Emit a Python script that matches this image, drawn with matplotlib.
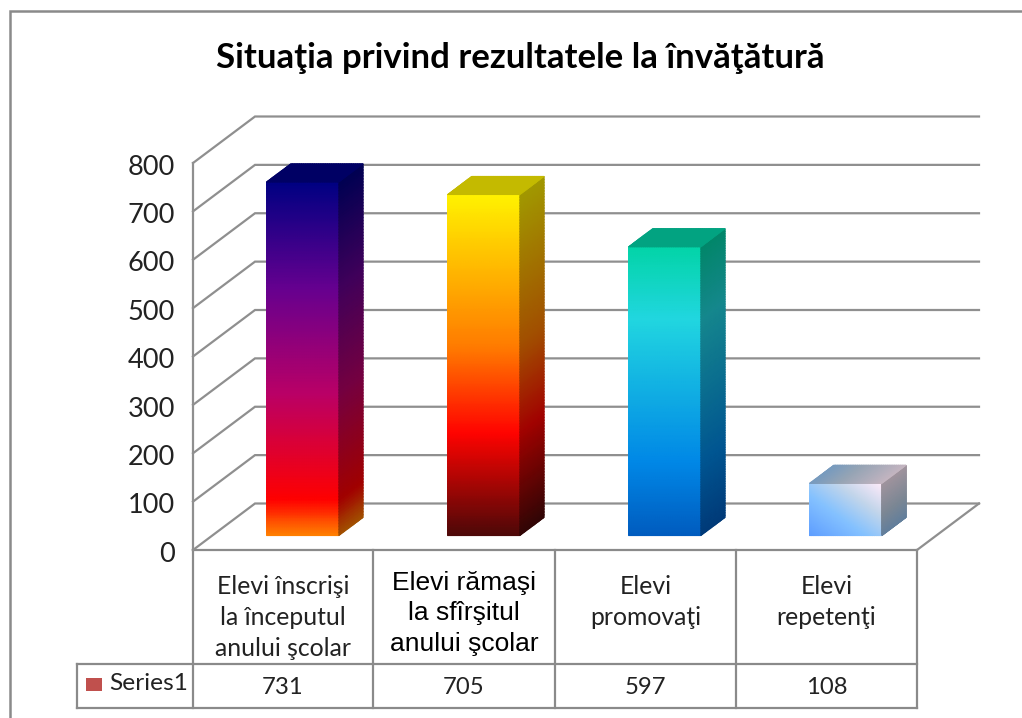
import numpy as np
import matplotlib
matplotlib.use("Agg")
import matplotlib.pyplot as plt
from matplotlib.colors import LinearSegmentedColormap
from matplotlib.transforms import ScaledTranslation

# data
categories = ["Elevi înscrişi\nla începutul\nanului şcolar",
              "Elevi rămaşi\nla sfîrşitul\nanului şcolar",
              "Elevi\npromovaţi",
              "Elevi\nrepetenţi"]
values = [731, 705, 597, 108]
table_values = ["731", "705", "597", "108"]
y_ticks = [0, 100, 200, 300, 400, 500, 600, 700, 800]
series_name = "Series1"
title = "Situaţia privind rezultatele la învăţătură"

# gradient stops per bar, bottom to top
grad_stops = [
    [(0.0, "#FF8200"), (0.10, "#FF0000"), (0.40, "#BA0066"), (0.70, "#66008F"), (1.0, "#000082")],
    [(0.0, "#4D0808"), (0.30, "#FF0300"), (0.55, "#FF7A00"), (1.0, "#FFF200")],
    [(0.0, "#005CBF"), (0.25, "#0087E6"), (0.75, "#21D6E0"), (1.0, "#03D4A8")],
    [(0.0, "#5E9EFF"), (0.39, "#85C2FF"), (0.70, "#C4D6EB"), (1.0, "#FFEBFA")],
]
diagonal = [False, False, False, True]

W, H = 1022, 718
GRID = "#8f8f8f"
LINE = "#8a8a8a"
TEXT = "#222222"

# front plane of the 3d box in pixels
LEFT, RIGHT, Y0, Y800 = 193, 917, 550, 163
# how far the back wall sits from the front plane, in axis units
WALL_DX = 62 / 181
WALL_DY = 46.5 / ((Y0 - Y800) / 800)
BAR_W = 0.40
D_FRONT, D_BACK = 0.31, 0.70


def project(x, v, d):
    return x + d * WALL_DX, v + d * WALL_DY


fig = plt.figure(figsize=(W / 100, H / 100), dpi=100, facecolor="white")

# overlay in pixel coordinates for frame and table
bg = fig.add_axes([0, 0, 1, 1])
bg.set_xlim(0, W)
bg.set_ylim(H, 0)
bg.axis("off")

ax = fig.add_axes([LEFT / W, 1 - Y0 / H, (RIGHT - LEFT) / W, (Y0 - Y800) / H])
ax.set_xlim(0, len(values))
ax.set_ylim(0, 800)
ax.patch.set_alpha(0)
for s in ax.spines.values():
    s.set_visible(False)
ax.set_xticks([])
ax.set_yticks(y_ticks)
ax.tick_params(axis="y", length=0, pad=13, labelsize=19.5, labelcolor=TEXT)
for lab in ax.get_yticklabels():
    lab.set_fontfamily("Lato")
    lab.set_transform(lab.get_transform() + ScaledTranslation(0, -1.2 / 72, fig.dpi_scale_trans))

lw = 1.6
# walls and gridlines
for t in y_ticks:
    xs = [0, project(0, t, 1)[0], project(len(values), t, 1)[0]]
    ys = [t, project(0, t, 1)[1], project(len(values), t, 1)[1]]
    ax.plot(xs, ys, color=GRID, lw=lw, clip_on=False, zorder=1, solid_joinstyle="miter")
ax.plot([0, 0], [0, 800], color=GRID, lw=lw, clip_on=False, zorder=1)
# floor right edge
fx, fy = project(len(values), 0, 1)
ax.plot([len(values), fx], [0, fy], color=GRID, lw=lw, clip_on=False, zorder=1)


def face(xx, yy, cc, cmap, shade, z):
    # shade darkens the gradient for side and top faces
    colors = cmap(np.linspace(0, 1, 256))
    colors[:, :3] *= shade
    dark = LinearSegmentedColormap.from_list("d", colors)
    ax.pcolormesh(xx, yy, cc, cmap=dark, vmin=0, vmax=1, shading="gouraud",
                  clip_on=False, zorder=z)


for i, val in enumerate(values):
    cmap = LinearSegmentedColormap.from_list("g%d" % i, grad_stops[i], N=256)
    x0 = i + 0.5 - BAR_W / 2
    x1 = i + 0.5 + BAR_W / 2
    diag = diagonal[i]

    u = np.linspace(0, 1, 40)
    t = np.linspace(0, 1, 120)
    U, T = np.meshgrid(u, t)
    C = (U + T) / 2 if diag else T

    # front face
    fx_, fy_ = project(x0 + U * (x1 - x0), T * val, D_FRONT)
    face(fx_, fy_, C, cmap, 1.0, 3)

    # side face, sheared with the depth
    dd = np.linspace(D_FRONT, D_BACK, 20)
    D, T2 = np.meshgrid(dd, t)
    sx, sy = project(x1, T2 * val, D)
    C2 = (1 + T2) / 2 if diag else T2
    face(sx, sy, C2, cmap, 0.63, 3)

    # top face
    U3, D3 = np.meshgrid(u, dd)
    tx, ty = project(x0 + U3 * (x1 - x0), val, D3)
    C3 = (U3 + 1) / 2 if diag else np.ones_like(U3)
    face(tx, ty, C3, cmap, 0.77, 3)

# frame
bg.plot([W, 9.5, 9.5], [11, 11, H], color=LINE, lw=1.8, solid_joinstyle="miter")

# table under the plot
col_x = [193, 373, 555, 736, 917]
row_y = [550, 664, 708]
bg.plot([col_x[0], col_x[-1]], [row_y[0], row_y[0]], color=LINE, lw=lw)
bg.plot([77, col_x[-1]], [row_y[1], row_y[1]], color=LINE, lw=lw)
bg.plot([77, col_x[-1]], [row_y[2], row_y[2]], color=LINE, lw=lw)
bg.plot([77, 77], [row_y[1], row_y[2]], color=LINE, lw=lw)
for x in col_x:
    bg.plot([x, x], [row_y[0], row_y[2]], color=LINE, lw=lw)

for i, name in enumerate(categories):
    cx = (col_x[i] + col_x[i + 1]) / 2
    if i == 1:
        bg.text(cx, 571, name, ha="center", va="top", color="#000000",
                family="Liberation Sans", fontsize=19, linespacing=1.34)
    else:
        bg.text(cx, 575, name, ha="center", va="top", color=TEXT,
                family="Lato", fontsize=17.8, linespacing=1.43)
    bg.text(cx, 688, table_values[i], ha="center", va="center", color=TEXT,
            family="Lato", fontsize=17.2)

bg.add_patch(plt.Rectangle((86, 678), 16, 13, color="#C0504D", lw=0))
bg.text(109, 684, series_name, ha="left", va="center", color=TEXT, family="Lato", fontsize=17.6)

bg.text(520.5, 58, title, ha="center", va="center", color="#000000", family="Lato",
        weight="bold", fontsize=25)

fig.savefig("out.png", dpi=100, facecolor="white")
plt.close(fig)
